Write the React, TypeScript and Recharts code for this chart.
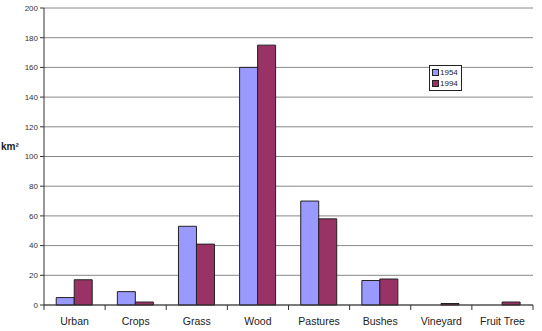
import React from "react";
import { BarChart, Bar, XAxis, YAxis, CartesianGrid } from "recharts";

const categories = ["Urban", "Crops", "Grass", "Wood", "Pastures", "Bushes", "Vineyard", "Fruit Tree"];
const values1954 = [5, 9, 53, 160, 70, 16.5, 0, 0];
const values1994 = [17, 2, 41, 175, 58, 17.5, 1, 2];
const yTicks = [0, 20, 40, 60, 80, 100, 120, 140, 160, 180, 200];
const seriesNames = ["1954", "1994"];
const seriesColors = ["#9999FF", "#993366"];

const data = categories.map((c, i) => ({ name: c, y1954: values1954[i], y1994: values1994[i] }));

const FONT = "'Liberation Sans', Arial, sans-serif";

const XTick = (props: any) => {
  const { x, y, payload, index } = props;
  const half = 489 / categories.length / 2;
  return (
    <g>
      <line x1={x - half} x2={x - half} y1={y - 8} y2={y - 3} stroke="#333" />
      {index === categories.length - 1 && (
        <line x1={x + half} x2={x + half} y1={y - 8} y2={y - 3} stroke="#333" />
      )}
      <text x={x} y={y + 12} textAnchor="middle" fontSize={10.5} fill="#222" fontFamily={FONT}>
        {payload.value}
      </text>
    </g>
  );
};

export default function App() {
  return (
    <div style={{ position: "absolute", left: 0, top: 0, width: 542, height: 331, background: "#fff" }}>
      <BarChart
        width={542}
        height={331}
        data={data}
        margin={{ top: 8, right: 9, left: 0, bottom: 0 }}
        barCategoryGap="20%"
        barGap={0}
      >
        <CartesianGrid vertical={false} stroke="#888" strokeWidth={1} />
        <XAxis
          dataKey="name"
          height={26}
          tick={<XTick />}
          tickLine={false}
          axisLine={{ stroke: "#333" }}
          interval={0}
        />
        <YAxis
          width={44}
          domain={[0, 200]}
          ticks={yTicks}
          interval={0}
          tick={{ fontSize: 8, fill: "#333", fontFamily: FONT }}
          tickSize={4}
          tickLine={{ stroke: "#333" }}
          axisLine={{ stroke: "#333" }}
        />
        <YAxis yAxisId="r" orientation="right" width={0} tick={false} tickLine={false} axisLine={{ stroke: "#999" }} />
        <Bar dataKey="y1954" name={seriesNames[0]} fill={seriesColors[0]} stroke="#222" strokeWidth={1} isAnimationActive={false} />
        <Bar dataKey="y1994" name={seriesNames[1]} fill={seriesColors[1]} stroke="#222" strokeWidth={1} isAnimationActive={false} />
      </BarChart>
      <div
        style={{
          position: "absolute",
          left: 429,
          top: 65,
          border: "1px solid #222",
          background: "#fff",
          padding: "1px 3px 1px 2px",
          fontFamily: FONT,
          fontSize: 8,
          color: "#222",
          lineHeight: "11px",
        }}
      >
        {seriesNames.map((l, i) => (
          <div key={l} style={{ display: "flex", alignItems: "center" }}>
            <span
              style={{
                display: "inline-block",
                width: 5,
                height: 5,
                background: seriesColors[i],
                border: "1px solid #222",
                marginRight: 1,
              }}
            />
            {l}
          </div>
        ))}
      </div>
      <div
        style={{
          position: "absolute",
          left: 1,
          top: 141,
          fontFamily: FONT,
          fontWeight: "bold",
          fontSize: 10,
          color: "#222",
        }}
      >
        km²
      </div>
    </div>
  );
}
